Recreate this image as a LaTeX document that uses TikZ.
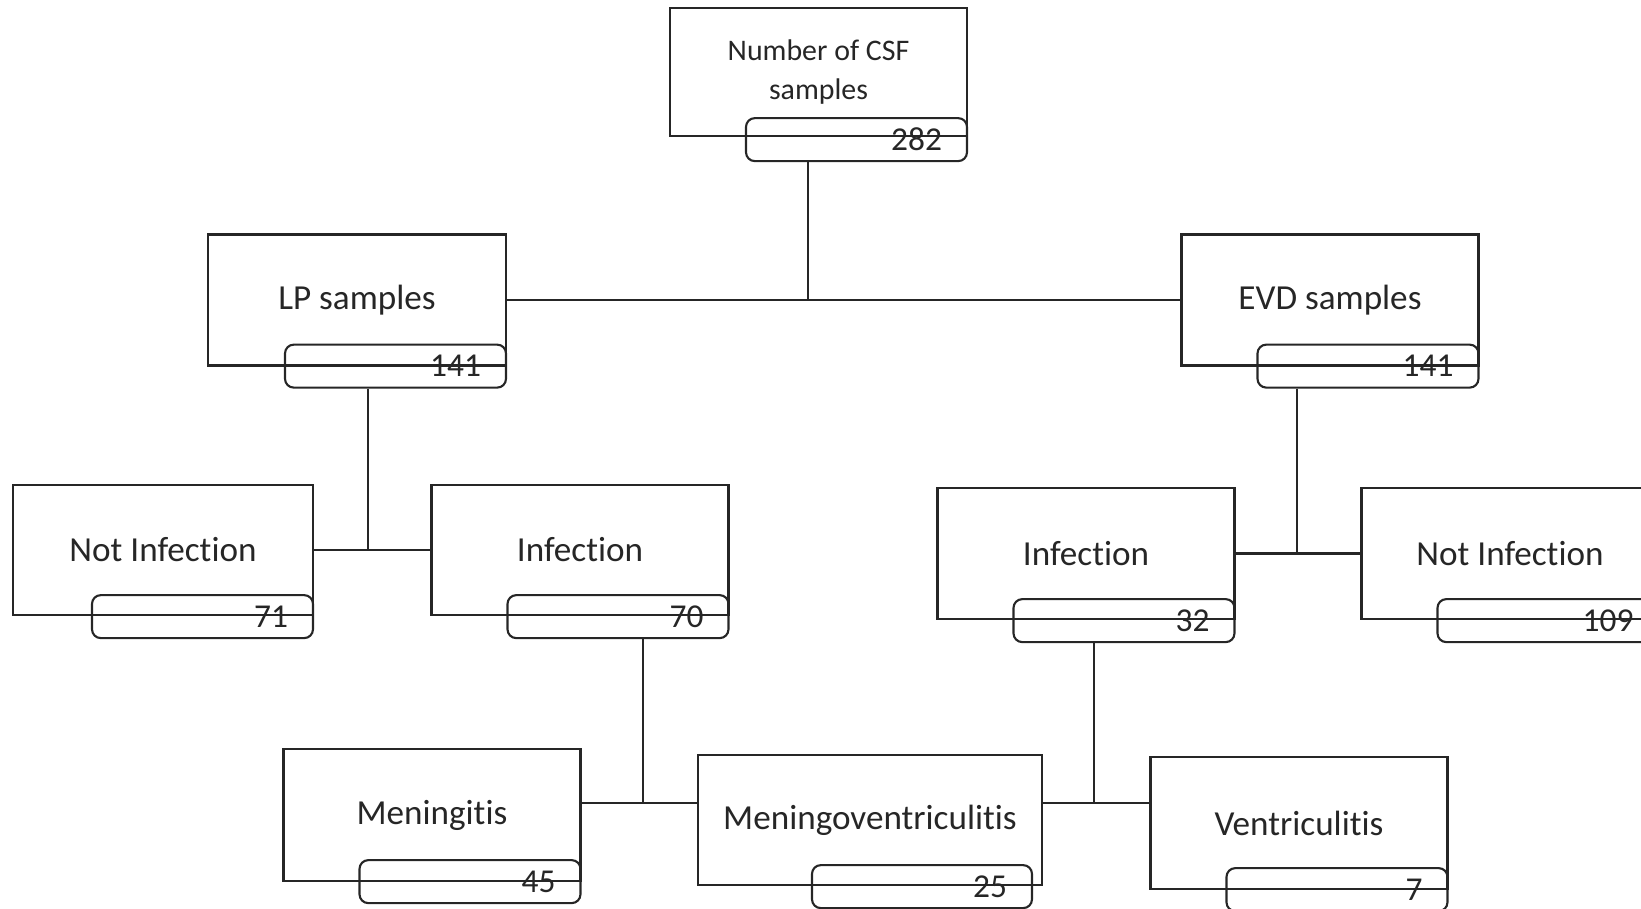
\documentclass[tikz,border=0pt]{standalone}
\usepackage{fontspec}
\setmainfont{Carlito}[Ligatures=NoCommon]
\usetikzlibrary{positioning, calc}

\begin{document}
\begin{tikzpicture}[
  line width=0.6pt, color=black!85,
  box/.style={draw, minimum width=2.98cm, minimum height=1.31cm, align=center, font=\fontsize{10}{12}\selectfont},
  tally/.style={draw, rounded corners=2.5pt, anchor=north east, text width=1.71cm, align=right, inner xsep=0.25cm, inner ysep=0pt, minimum height=0.43cm, font=\fontsize{9.5}{11}\selectfont}
]
\useasboundingbox (0,0) rectangle (16.41,-9.08);

\node[box, minimum width=2.97cm, minimum height=1.28cm, font=\fontsize{8.5}{11}\selectfont] (csf) at (8.185,-0.72) {Number of CSF\\samples};
\node[tally] (csf-n) at ($(csf.south east)+(0,0.20)$) {282};

\node[box] (lp) at (3.57,-3.00) {LP samples};
\node[tally] (lp-n) at ($(lp.south east)+(0,0.23)$) {141};
\node[box, minimum width=2.97cm] (evd) at (13.30,-3.00) {EVD samples};
\node[tally] (evd-n) at ($(evd.south east)+(0,0.23)$) {141};

\node[box, minimum width=3.00cm, minimum height=1.30cm] (noinf-l) at (1.63,-5.50) {Not Infection};
\node[tally] (noinf-l-n) at ($(noinf-l.south east)+(0,0.22)$) {71};
\node[box, minimum width=2.97cm, minimum height=1.30cm] (inf-l) at (5.80,-5.50) {Infection};
\node[tally] (inf-l-n) at ($(inf-l.south east)+(0,0.22)$) {70};

\node[box, minimum width=2.97cm] (inf-r) at (10.86,-5.535) {Infection};
\node[tally] (inf-r-n) at ($(inf-r.south east)+(0,0.22)$) {32};
\node[box, minimum width=2.97cm] (noinf-r) at (15.10,-5.535) {Not Infection};
\node[tally] (noinf-r-n) at ($(noinf-r.south east)+(0,0.22)$) {109};

\node[box, minimum width=2.97cm, minimum height=1.32cm] (men) at (4.32,-8.15) {Meningitis};
\node[tally] (men-n) at ($(men.south east)+(0,0.23)$) {45};
\node[box, minimum width=3.44cm, minimum height=1.30cm] (menvent) at (8.70,-8.20) {Meningoventriculitis};
\node[tally, text width=1.70cm] (menvent-n) at ($(menvent.south east)+(-0.10,0.22)$) {25};
\node[box, minimum width=2.97cm, minimum height=1.32cm] (vent) at (12.99,-8.23) {Ventriculitis};
\node[tally] (vent-n) at ($(vent.south east)+(0,0.23)$) {7};

\coordinate (csf-j) at (8.08,-3.00);
\coordinate (lp-j) at (3.68,-5.50);
\coordinate (evd-j) at (12.97,-5.535);
\coordinate (inf-l-j) at (6.43,-8.03);
\coordinate (inf-r-j) at (10.94,-8.03);

\draw (csf-n.south -| csf-j) -- (csf-j);
\draw (lp.east) -- (evd.west);
\draw (lp-n.south -| lp-j) -- (lp-j);
\draw (noinf-l.east) -- (inf-l.west);
\draw (evd-n.south -| evd-j) -- (evd-j);
\draw (inf-r.east) -- (noinf-r.west);
\draw (inf-l-n.south -| inf-l-j) -- (inf-l-j);
\draw (men.east |- inf-l-j) -- (menvent.west |- inf-l-j);
\draw (inf-r-n.south -| inf-r-j) -- (inf-r-j);
\draw (menvent.east |- inf-r-j) -- (vent.west |- inf-r-j);
\end{tikzpicture}
\end{document}
